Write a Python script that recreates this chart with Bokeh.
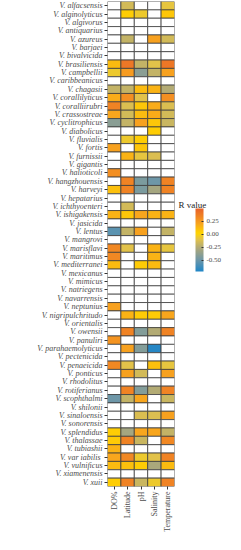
import numpy as np
from bokeh.plotting import figure
from bokeh.layouts import row
from bokeh.models import (ColumnDataSource, LinearColorMapper, ColorBar, FixedTicker,
                          NumeralTickFormatter, FactorRange, Label, Range1d)
from bokeh.embed import file_html
from bokeh.resources import INLINE

NA = float("nan")

species = ["V. alfacsensis", "V. alginolyticus", "V. algivorus", "V. antiquarius", "V. azureus",
           "V. barjaei", "V. bivalvicida", "V. brasiliensis", "V. campbellii", "V. caribbeanicus",
           "V. chagasii", "V. corallilyticus", "V. coralliirubri", "V. crassostreae", "V. cyclitrophicus",
           "V. diabolicus", "V. fluvialis", "V. fortis", "V. furnissii", "V. gigantis",
           "V. halioticoli", "V. hangzhouensis", "V. harveyi", "V. hepatarius", "V. ichthyoenteri",
           "V. ishigakensis", "V. jasicida", "V. lentus", "V. mangrovi", "V. marisflavi",
           "V. maritimus", "V. mediterranei", "V. mexicanus", "V. mimicus", "V. natriegens",
           "V. navarrensis", "V. neptunius", "V. nigripulchritudo", "V. orientalis", "V. owensii",
           "V. panuliri", "V. parahaemolyticus", "V. pectenicida", "V. penaeicida", "V. ponticus",
           "V. rhodolitus", "V. rotiferianus", "V. scophthalmi", "V. shilonii", "V. sinaloensis",
           "V. sonorensis", "V. splendidus", "V. thalassae", "V. tubiashii", "V.  var iabilis",
           "V. vulnificus", "V. xiamenensis", "V. xuii"]

variables = ["DO%", "Latitude", "pH", "Salinity", "Temperature"]

do_pct = [NA, NA, NA, NA, NA, NA, NA, 0.12, -0.05, NA, -0.2, 0.18, 0.35, 0.2, -0.4, NA,
          NA, 0.22, NA, NA, 0.3, NA, 0.1, NA, NA, 0.15, NA, -0.55, NA, 0.33, 0.33, 0.12,
          NA, NA, NA, NA, 0.22, NA, NA, NA, 0.28, NA, NA, 0.33, NA, NA, NA, -0.5,
          NA, NA, NA, 0.05, 0.06, 0.15, 0.2, 0.12, NA, 0.05]
latitude = [-0.15, 0.05, NA, NA, -0.2, NA, NA, 0.4, 0.25, NA, -0.2, 0.3, -0.12, -0.15, -0.2, NA,
            -0.05, NA, 0.15, NA, NA, 0.35, 0.35, NA, -0.15, 0.08, NA, -0.2, NA, -0.1, NA, NA,
            NA, NA, NA, NA, NA, 0.15, NA, 0.35, NA, 0.22, NA, -0.1, 0.22, NA, 0.35, -0.2,
            NA, NA, NA, -0.3, 0.35, NA, 0.33, 0.1, NA, 0.35]
ph = [NA, -0.05, NA, NA, NA, NA, NA, -0.2, -0.4, NA, 0.12, -0.1, 0.08, 0.12, 0.22, NA,
      0.05, 0.08, -0.08, NA, NA, -0.45, -0.45, NA, NA, 0.2, NA, 0.22, NA, NA, NA, 0.06,
      NA, NA, NA, NA, NA, 0.06, NA, -0.42, NA, -0.42, NA, NA, -0.15, NA, -0.42, 0.2,
      NA, -0.12, NA, 0.2, -0.18, NA, -0.05, 0.05, NA, -0.18]
salinity = [NA, NA, NA, NA, 0.22, NA, NA, -0.1, -0.2, NA, 0.15, NA, 0.18, 0.18, 0.08, 0.05,
            NA, NA, -0.12, NA, NA, -0.5, -0.3, NA, NA, 0.15, NA, NA, NA, 0.15, 0.15, 0.12,
            NA, NA, NA, NA, NA, 0.06, NA, -0.25, NA, -0.7, NA, 0.1, NA, NA, -0.25, NA,
            NA, -0.12, NA, 0.2, NA, NA, -0.1, -0.28, NA, -0.05]
temperature = [-0.08, 0.08, NA, NA, -0.15, NA, NA, 0.4, 0.22, NA, -0.25, 0.3, -0.12, -0.15, -0.18, NA,
               NA, NA, NA, NA, NA, 0.35, 0.35, NA, NA, 0.15, NA, -0.2, NA, -0.08, NA, NA,
               NA, NA, NA, NA, NA, 0.2, NA, 0.35, NA, NA, NA, -0.08, 0.22, NA, 0.35, -0.18,
               NA, 0.22, NA, -0.2, 0.33, NA, 0.35, 0.12, NA, 0.35]

colorbar_ticks = [-0.5, -0.25, 0.0, 0.25]
colorbar_title = "R value"
r_low, r_high = -0.72, 0.5

# ---- palette (blue -> khaki -> yellow -> orange) ----
stops = [(0.00, "#1f86c8"), (0.18, "#6e97a8"), (0.36, "#aaa77c"), (0.51, "#e2c24a"),
         (0.61, "#ffd400"), (0.76, "#f8a51e"), (1.00, "#e8612a")]

def hex2rgb(h):
    return tuple(int(h[i:i + 2], 16) for i in (1, 3, 5))

palette = []
for i in range(256):
    t = i / 255
    for (t0, c0), (t1, c1) in zip(stops[:-1], stops[1:]):
        if t0 <= t <= t1:
            f = (t - t0) / (t1 - t0) if t1 > t0 else 0
            a, b = hex2rgb(c0), hex2rgb(c1)
            rgb = [round(a[k] + (b[k] - a[k]) * f) for k in range(3)]
            palette.append("#%02x%02x%02x" % tuple(rgb))
            break

columns = [do_pct, latitude, ph, salinity, temperature]
xs, ys, vals = [], [], []
for var, col in zip(variables, columns):
    for sp, v in zip(species, col):
        xs.append(var)
        ys.append(sp)
        vals.append(v)

src = ColumnDataSource(data=dict(var=xs, sp=ys, val=np.array(vals, dtype=float)))
mapper = LinearColorMapper(palette=palette, low=r_low, high=r_high, nan_color="white")

H = 534
p = figure(width=177, height=H, output_backend="svg", toolbar_location=None,
           x_range=FactorRange(*variables, range_padding=0),
           y_range=FactorRange(*list(reversed(species)), range_padding=0),
           min_border_left=107, min_border_right=3, min_border_top=1, min_border_bottom=47)

p.rect(x="var", y="sp", width=1, height=1, source=src,
       fill_color={"field": "val", "transform": mapper},
       line_color="#3d3d3d", line_width=0.8)

p.outline_line_color = None
p.grid.grid_line_color = None
for ax in (p.xaxis[0], p.yaxis[0]):
    ax.axis_line_color = None
    ax.major_tick_line_color = "#333333"
    ax.major_tick_out = 3
    ax.major_tick_in = 0
    ax.major_label_text_font = "Liberation Serif"
    ax.major_label_text_font_size = "8px"
    ax.major_label_text_color = "#4d4d4d"
    ax.major_label_standoff = 2
p.yaxis.major_label_text_font_style = "italic"
p.xaxis.major_label_orientation = np.pi / 2

# ---- legend panel (frame aligned with the heatmap frame) ----
q = figure(width=48, height=H, output_backend="svg", toolbar_location=None,
           x_range=Range1d(0, 48), y_range=Range1d(0, 486),
           min_border_left=0, min_border_right=0, min_border_top=1, min_border_bottom=47)
q.axis.visible = False
q.grid.grid_line_color = None
q.outline_line_color = None

cb = ColorBar(color_mapper=mapper, ticker=FixedTicker(ticks=colorbar_ticks),
              formatter=NumeralTickFormatter(format="0.00"),
              width=8, height=63, title=None,
              major_label_text_font="Liberation Serif", major_label_text_font_size="7px",
              major_label_text_color="#4d4d4d", label_standoff=3,
              major_tick_line_color="#333333", major_tick_in=2, major_tick_out=0,
              bar_line_color=None, background_fill_color=None,
              location=(18, 215), padding=0, margin=0)
q.add_layout(cb, "center")

title = Label(x=1, y=282, text=colorbar_title, text_font="Liberation Serif",
              text_font_size="9px", text_color="#222222", text_baseline="middle",
              text_align="left")
q.add_layout(title)

layout = row(p, q, spacing=0)
open("out.html", "w").write(file_html(layout, INLINE))
